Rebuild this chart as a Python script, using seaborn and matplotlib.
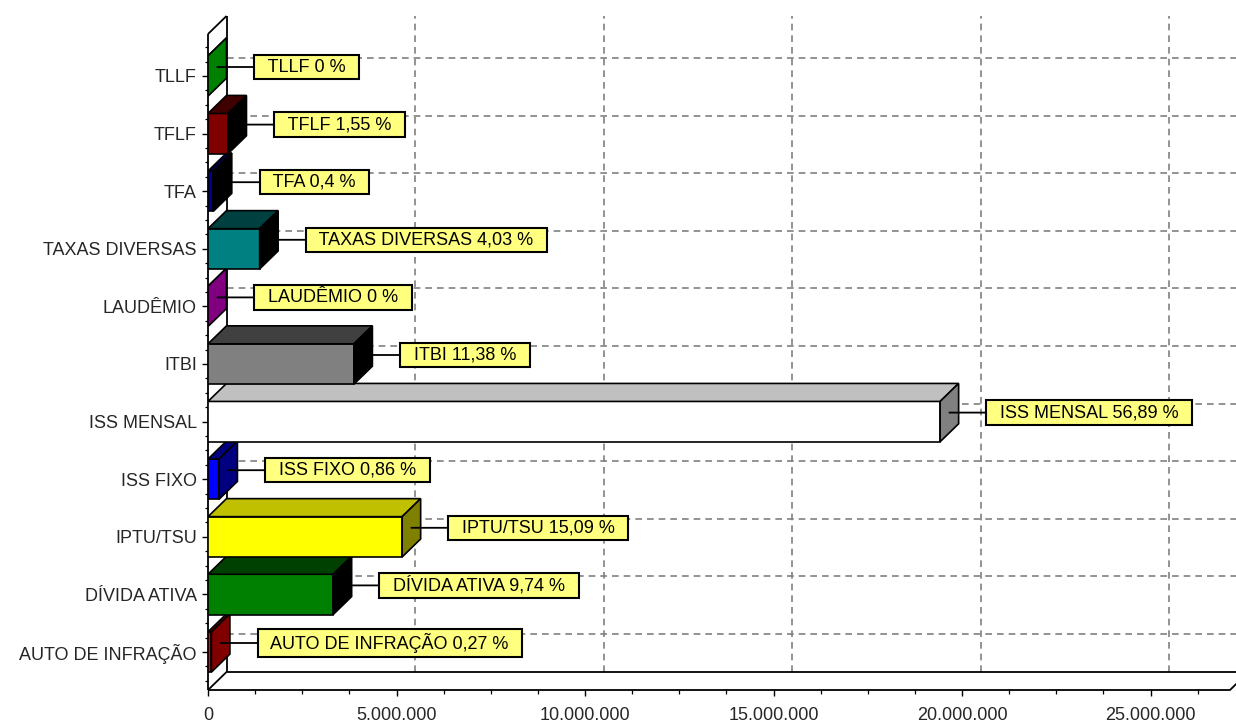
import matplotlib
matplotlib.use("Agg")
import matplotlib.pyplot as plt
import seaborn as sns
import pandas as pd
from matplotlib.patches import Polygon
from matplotlib.ticker import FixedLocator

# ---------------- data ----------------
categories = ["TLLF", "TFLF", "TFA", "TAXAS DIVERSAS", "LAUDÊMIO", "ITBI",
              "ISS MENSAL", "ISS FIXO", "IPTU/TSU", "DÍVIDA ATIVA", "AUTO DE INFRAÇÃO"]
values = [0, 530000, 140000, 1370000, 0, 3870000,
          19420000, 290000, 5150000, 3320000, 90000]
percent_labels = ["0", "1,55", "0,4", "4,03", "0", "11,38",
                  "56,89", "0,86", "15,09", "9,74", "0,27"]
x_ticks = [0, 5000000, 10000000, 15000000, 20000000, 25000000]
x_tick_labels = ["0", "5.000.000", "10.000.000", "15.000.000", "20.000.000", "25.000.000"]

# ---------------- styles ----------------
front_colors = ["#008000", "#800000", "#000080", "#008080", "#800080", "#808080",
                "#ffffff", "#0000ff", "#ffff00", "#008000", "#ff0000"]
top_colors = ["#004000", "#400000", "#000040", "#004040", "#400040", "#404040",
              "#c0c0c0", "#000080", "#c0c000", "#004000", "#800000"]
side_colors = ["#008000", "#000000", "#000000", "#000000", "#800080", "#000000",
               "#808080", "#000080", "#808000", "#000000", "#800000"]

W_PX, H_PX = 1236, 725
X0_PX, XSCALE = 208, 37.7 / 1e6      # px per unit value
Y0_PX, YSCALE = 76, 57.6             # px per category
FLOOR_PX = 690
XMAX = (W_PX - X0_PX) / XSCALE
YBOT = (FLOOR_PX - Y0_PX) / YSCALE
YTOP = (0 - Y0_PX) / YSCALE
DX = 18.5 / XSCALE
DY = -18.0 / YSCALE

sns.set_style("white")
plt.rcParams["font.family"] = ["Liberation Sans", "DejaVu Sans"]
FS = 13

fig = plt.figure(figsize=(W_PX / 100, H_PX / 100), dpi=100)
ax = fig.add_axes([X0_PX / W_PX, (H_PX - FLOOR_PX) / H_PX,
                   (W_PX - X0_PX) / W_PX, FLOOR_PX / H_PX])

df = pd.DataFrame({"cat": categories, "val": values})
sns.barplot(data=df, x="val", y="cat", hue="cat", palette=front_colors,
            legend=False, orient="h", width=0.7, saturation=1,
            edgecolor="black", linewidth=1.2, ax=ax)

ax.set_xlim(0, XMAX)
ax.set_ylim(YBOT, YTOP)
for s in ax.spines.values():
    s.set_visible(False)
ax.set_xlabel("")
ax.set_ylabel("")

# ---------------- walls / floor / grid ----------------
grid_kw = dict(color="#808080", lw=1.2, ls=(0, (4, 3)), zorder=1)
wall_kw = dict(color="black", lw=1.3, zorder=2, clip_on=False, solid_capstyle="butt")
back_floor = YBOT + DY
back_top = (16 - Y0_PX) / YSCALE
front_top = back_top - DY

for t in x_ticks[1:]:
    ax.plot([t + DX, t + DX], [back_floor, back_top], **grid_kw)
for i in range(len(categories)):
    ax.plot([DX, XMAX], [i + DY, i + DY], **grid_kw)

ax.plot([0, 0], [YBOT, front_top], **wall_kw)
ax.plot([DX, DX], [back_floor, back_top], **wall_kw)
ax.plot([0, DX], [front_top, back_top], **wall_kw)
ax.plot([0, DX], [YBOT, back_floor], **wall_kw)
x_end = (1230 - X0_PX) / XSCALE
ax.plot([0, x_end, x_end + DX * 0.35], [YBOT, YBOT, YBOT + DY * 0.35], **wall_kw)
ax.plot([DX, XMAX], [back_floor, back_floor], color="black", lw=1.3, zorder=2)

# ---------------- 3D faces ----------------
for p in ax.patches:
    if not hasattr(p, "get_width"):
        continue
    y0, h, w = p.get_y(), p.get_height(), p.get_width()
    i = int(round(y0 + h / 2))
    z = 3 + (len(categories) - i) * 0.1
    p.set_zorder(z)
    top = Polygon([(0, y0), (w, y0), (w + DX, y0 + DY), (DX, y0 + DY)],
                  closed=True, facecolor=top_colors[i], edgecolor="black",
                  lw=1.2, zorder=z + 0.01)
    side = Polygon([(w, y0), (w, y0 + h), (w + DX, y0 + h + DY), (w + DX, y0 + DY)],
                   closed=True, facecolor=side_colors[i], edgecolor="black",
                   lw=1.2, zorder=z + 0.02)
    ax.add_patch(top)
    ax.add_patch(side)
    # label box
    ax.annotate("  " + categories[i] + " " + percent_labels[i] + " %  ",
                xy=(w + DX / 2, i + DY / 2), xytext=(40.6, 0),
                textcoords="offset pixels", ha="left", va="center",
                fontsize=FS, color="black", zorder=10,
                bbox=dict(boxstyle="square,pad=0.2", facecolor="#ffff80",
                          edgecolor="black", lw=1.5),
                arrowprops=dict(arrowstyle="-", color="black", lw=1.3,
                                shrinkA=0, shrinkB=0, relpos=(0, 0.5)))

# ---------------- ticks ----------------
ax.set_yticks(range(len(categories)))
ax.set_yticklabels(categories, fontsize=FS)
minor_y = [k * 0.25 - 0.5 for k in range(45) if (k * 0.25 - 0.5) > front_top]
ax.yaxis.set_minor_locator(FixedLocator(minor_y))
ax.set_xticks(x_ticks)
ax.set_xticklabels(x_tick_labels, fontsize=FS)
ax.xaxis.set_minor_locator(FixedLocator([k * 1250000 for k in range(22)]))
ax.tick_params(axis="y", which="major", left=True, length=4.5, width=1,
               color="black", pad=3.5, direction="out")
ax.tick_params(axis="y", which="minor", left=True, length=2.2, width=0.9,
               color="black", direction="out")
ax.tick_params(axis="x", which="major", bottom=True, length=4.5, width=1,
               color="black", pad=7.5, direction="out")
ax.tick_params(axis="x", which="minor", bottom=True, length=3, width=0.9,
               color="black", direction="out")

fig.savefig("out.png", dpi=100)
